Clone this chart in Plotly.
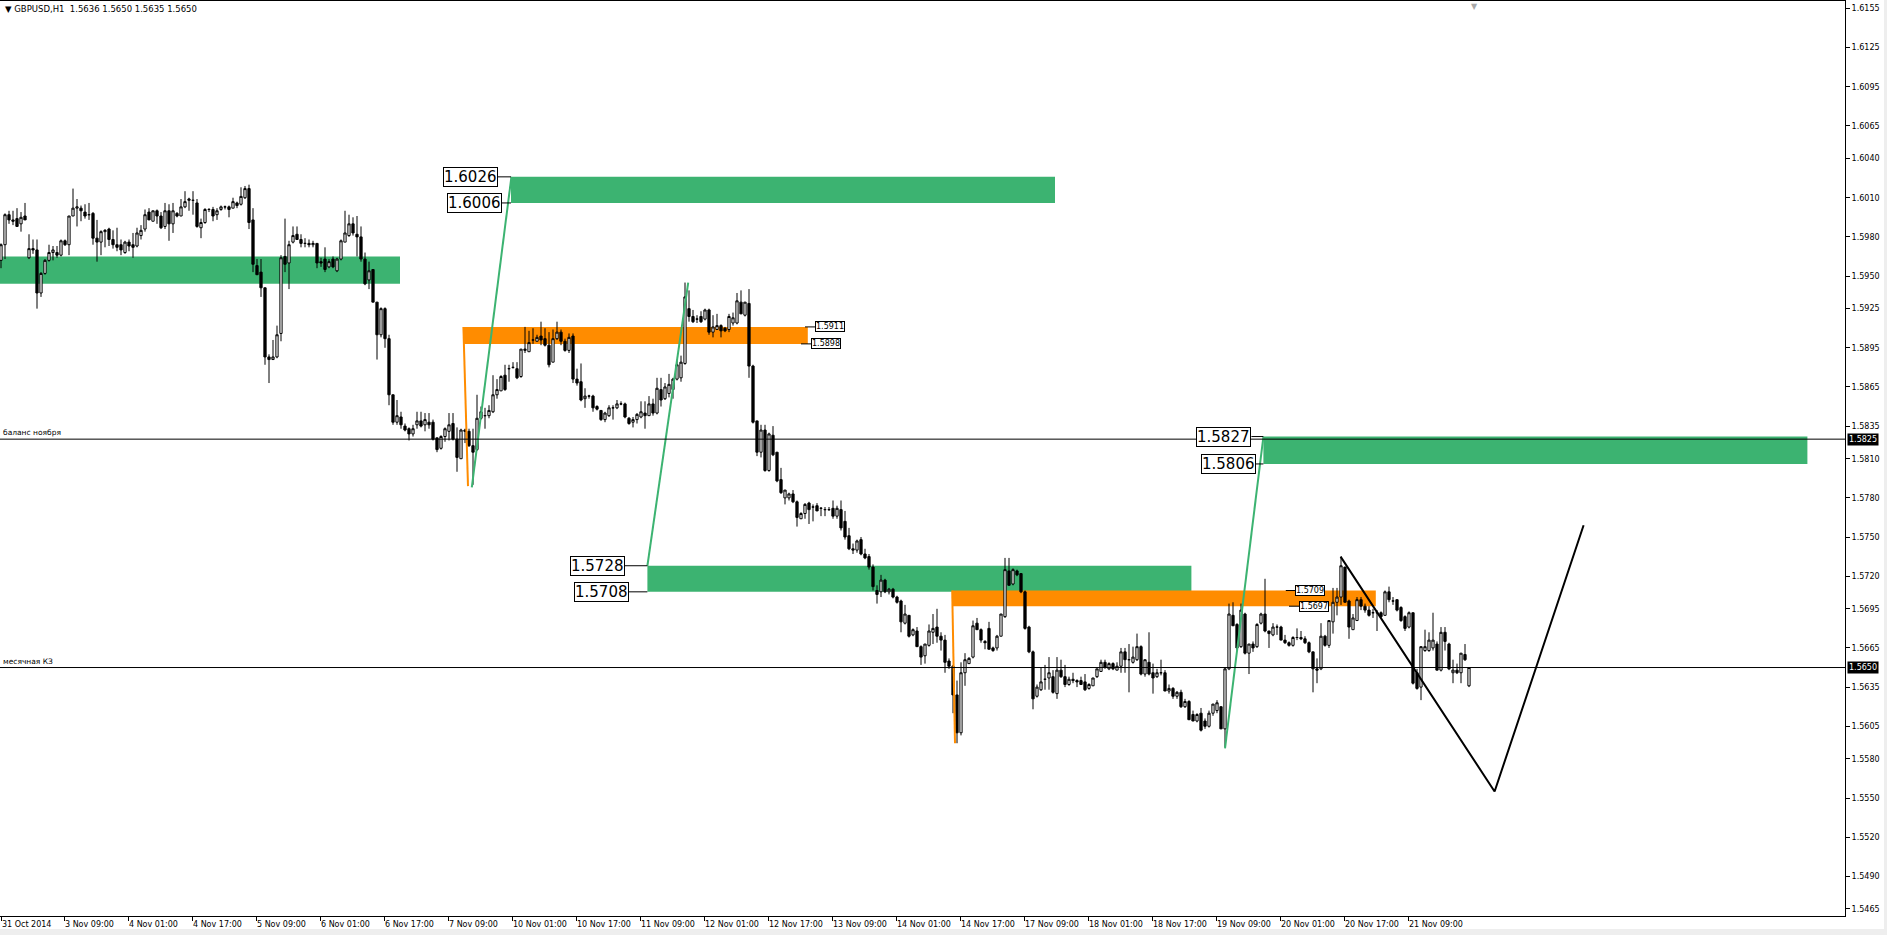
import plotly.graph_objects as go

# ---------------- data (prices in 0.0001 units above 1.5000) ----------------
bar_open = [
    962, 974, 997, 993, 994, 990, 996, 964, 971, 970,
    937, 952, 962, 968, 968, 966, 977, 974, 996, 1002,
    1002, 999, 997, 998, 979, 976, 984, 986, 978, 974,
    974, 968, 976, 974, 973, 981, 986, 999, 992, 1000,
    996, 988, 1000, 990, 998, 996, 1003, 1008, 1008, 1006,
    987, 991, 1001, 1001, 997, 1001, 1003, 1003, 1002, 1006,
    1005, 1010, 1017, 993, 958, 953, 941, 888, 886, 888,
    906, 965, 960, 976, 982, 978, 975, 975, 974, 975,
    961, 963, 957, 963, 954, 963, 976, 981, 990, 982,
    980, 963, 947, 955, 930, 905, 925, 902, 859, 838,
    842, 835, 833, 829, 836, 839, 836, 838, 838, 826,
    818, 827, 831, 837, 825, 810, 832, 831, 820, 817,
    841, 843, 843, 846, 859, 862, 874, 879, 880, 879,
    873, 893, 892, 901, 900, 904, 902, 897, 884, 902,
    907, 900, 893, 904, 871, 869, 856, 858, 858, 850,
    847, 840, 843, 849, 849, 852, 852, 841, 838, 840,
    842, 845, 843, 852, 845, 863, 856, 860, 863, 871,
    872, 883, 925, 919, 917, 919, 917, 924, 907, 909,
    912, 910, 909, 914, 914, 930, 920, 929, 881, 839,
    815, 832, 801, 828, 815, 794, 780, 780, 783, 777,
    764, 768, 776, 773, 774, 772, 771, 771, 772, 766,
    771, 762, 751, 741, 740, 748, 737, 735, 727, 709,
    708, 717, 708, 710, 704, 701, 684, 690, 675, 678,
    666, 659, 667, 677, 681, 674, 671, 655, 651, 629,
    600, 646, 653, 658, 684, 679, 670, 680, 665, 665,
    674, 689, 724, 714, 724, 722, 708, 681, 662, 628,
    633, 641, 642, 643, 630, 648, 643, 637, 641, 640,
    640, 639, 634, 636, 643, 647, 654, 649, 653, 648,
    651, 662, 656, 654, 656, 666, 645, 654, 646, 643,
    646, 646, 632, 634, 628, 631, 620, 624, 614, 609,
    615, 609, 605, 615, 617, 620, 603, 649, 690, 683,
    666, 691, 661, 668, 666, 684, 691, 678, 675, 681,
    681, 671, 669, 667, 673, 673, 672, 669, 662, 649,
    649, 674, 667, 685, 700, 704, 727, 701, 679, 686,
    702, 697, 694, 692, 692, 692, 690, 708, 701, 702,
    696, 689, 681, 692, 646, 635, 663, 663, 665, 668,
    648, 677, 668, 646, 648, 646, 660, 636,
]
bar_high = [
    975, 998, 1000, 1000, 1002, 999, 1006, 982, 978, 978,
    953, 963, 974, 973, 973, 978, 978, 996, 1017, 1009,
    1004, 1005, 1006, 999, 993, 985, 986, 987, 985, 987,
    978, 977, 978, 983, 987, 989, 1001, 1002, 1000, 1001,
    999, 1006, 1005, 1006, 999, 1009, 1015, 1010, 1015, 1009,
    994, 1002, 1002, 1003, 1002, 1004, 1004, 1004, 1010, 1007,
    1018, 1019, 1020, 1002, 963, 963, 941, 890, 901, 912,
    966, 994, 977, 988, 988, 982, 979, 978, 977, 975,
    964, 972, 963, 965, 964, 978, 1000, 997, 995, 996,
    988, 968, 961, 955, 930, 926, 926, 905, 859, 855,
    846, 837, 834, 836, 846, 846, 845, 845, 840, 826,
    828, 834, 845, 845, 834, 833, 833, 833, 833, 859,
    850, 849, 851, 874, 871, 874, 882, 882, 884, 884,
    894, 911, 908, 910, 905, 915, 910, 907, 909, 915,
    909, 902, 906, 906, 879, 883, 864, 859, 859, 851,
    847, 846, 851, 851, 855, 854, 853, 842, 842, 845,
    854, 854, 858, 856, 872, 872, 868, 875, 872, 886,
    889, 945, 939, 924, 920, 923, 925, 925, 920, 921,
    913, 911, 921, 922, 937, 939, 930, 940, 882, 839,
    836, 836, 830, 835, 815, 803, 786, 784, 786, 778,
    769, 776, 777, 775, 776, 773, 773, 773, 778, 774,
    778, 770, 757, 745, 748, 750, 741, 737, 729, 713,
    721, 718, 711, 711, 705, 702, 698, 690, 680, 681,
    667, 668, 683, 691, 695, 677, 675, 657, 652, 640,
    654, 661, 658, 686, 688, 680, 671, 685, 666, 675,
    691, 734, 734, 726, 725, 722, 709, 682, 663, 637,
    650, 652, 658, 648, 658, 656, 652, 643, 646, 641,
    643, 645, 638, 642, 649, 656, 656, 654, 654, 654,
    665, 665, 668, 666, 676, 667, 656, 677, 653, 649,
    656, 648, 637, 635, 632, 633, 626, 625, 617, 615,
    619, 611, 617, 622, 625, 620, 650, 699, 700, 684,
    699, 692, 668, 670, 684, 692, 718, 678, 684, 683,
    682, 675, 670, 674, 680, 678, 674, 670, 662, 657,
    684, 675, 686, 711, 711, 735, 727, 702, 691, 704,
    704, 699, 697, 695, 694, 693, 709, 712, 704, 702,
    697, 690, 693, 692, 649, 666, 679, 677, 692, 670,
    681, 681, 669, 656, 653, 661, 668, 650,
]
bar_low = [
    956, 963, 990, 989, 988, 984, 993, 963, 967, 925,
    934, 951, 961, 962, 964, 965, 973, 966, 996, 988,
    992, 994, 993, 974, 961, 966, 972, 973, 971, 969,
    966, 967, 969, 964, 972, 978, 984, 993, 992, 990,
    986, 986, 977, 983, 995, 996, 1002, 1000, 997, 987,
    979, 990, 999, 992, 993, 1000, 1001, 995, 1002, 1002,
    1004, 1009, 986, 953, 951, 934, 882, 868, 886, 887,
    900, 953, 940, 975, 978, 972, 972, 972, 972, 956,
    957, 953, 956, 956, 953, 962, 976, 980, 981, 965,
    961, 943, 940, 930, 886, 903, 895, 851, 836, 836,
    833, 831, 824, 827, 833, 834, 831, 833, 824, 815,
    817, 823, 824, 824, 800, 810, 822, 819, 790, 816,
    840, 833, 841, 845, 856, 862, 862, 869, 879, 871,
    872, 891, 892, 898, 900, 897, 896, 880, 884, 901,
    897, 892, 891, 868, 866, 854, 849, 856, 846, 847,
    839, 838, 842, 840, 848, 851, 841, 836, 834, 837,
    841, 833, 843, 843, 844, 850, 855, 857, 856, 870,
    869, 882, 915, 914, 914, 914, 916, 905, 903, 909,
    903, 907, 907, 912, 913, 921, 919, 872, 837, 812,
    811, 800, 800, 812, 792, 783, 775, 778, 776, 758,
    764, 764, 760, 762, 770, 766, 766, 770, 764, 764,
    755, 748, 740, 737, 738, 736, 733, 725, 709, 699,
    704, 707, 706, 703, 699, 677, 683, 673, 674, 666,
    652, 653, 666, 668, 669, 663, 646, 649, 615, 592,
    598, 636, 653, 657, 679, 669, 664, 664, 662, 663,
    674, 688, 713, 713, 720, 707, 679, 661, 618, 627,
    632, 633, 633, 630, 626, 642, 635, 636, 638, 635,
    637, 632, 633, 636, 642, 647, 649, 648, 648, 648,
    646, 646, 631, 653, 655, 644, 643, 644, 630, 642,
    644, 632, 630, 626, 626, 619, 619, 610, 609, 608,
    601, 603, 604, 613, 615, 603, 589, 648, 682, 663,
    665, 660, 645, 662, 665, 683, 677, 665, 674, 675,
    671, 668, 666, 666, 671, 671, 668, 661, 631, 638,
    648, 666, 665, 676, 690, 698, 700, 672, 679, 686,
    694, 692, 689, 688, 678, 688, 690, 700, 698, 693,
    685, 678, 680, 637, 633, 625, 662, 662, 663, 648,
    647, 663, 648, 638, 645, 638, 655, 635,
]
bar_close = [
    974, 997, 993, 992, 988, 995, 993, 971, 970, 937,
    952, 962, 968, 970, 966, 977, 974, 996, 1002, 1003,
    1000, 996, 997, 979, 976, 984, 985, 978, 974, 972,
    970, 976, 973, 972, 983, 985, 997, 993, 1000, 996,
    987, 1000, 990, 1000, 996, 1003, 1007, 1009, 1008, 988,
    991, 1001, 1001, 996, 1000, 1003, 1003, 1001, 1007, 1004,
    1011, 1017, 991, 959, 951, 941, 888, 886, 888, 905,
    964, 959, 974, 981, 978, 975, 975, 974, 975, 960,
    960, 955, 961, 957, 963, 977, 983, 990, 983, 980,
    963, 944, 954, 930, 905, 925, 902, 859, 838, 843,
    836, 832, 829, 833, 839, 835, 840, 836, 825, 817,
    827, 833, 836, 825, 811, 832, 831, 820, 815, 841,
    846, 843, 847, 859, 863, 873, 863, 879, 880, 872,
    894, 894, 899, 901, 903, 901, 897, 882, 902, 907,
    900, 893, 903, 871, 868, 855, 858, 858, 849, 848,
    840, 845, 849, 849, 852, 852, 842, 837, 840, 844,
    846, 843, 852, 845, 864, 855, 865, 867, 871, 882,
    884, 934, 919, 915, 917, 915, 924, 907, 911, 912,
    908, 908, 919, 918, 931, 921, 930, 881, 838, 815,
    832, 801, 829, 813, 793, 784, 786, 783, 777, 765,
    768, 775, 771, 773, 770, 772, 771, 771, 766, 772,
    757, 750, 741, 740, 747, 737, 734, 727, 712, 706,
    717, 708, 710, 704, 700, 685, 691, 674, 679, 666,
    658, 668, 678, 680, 674, 671, 654, 651, 629, 600,
    646, 656, 657, 682, 679, 671, 669, 664, 663, 674,
    691, 725, 713, 725, 721, 708, 680, 662, 626, 635,
    639, 641, 646, 631, 648, 643, 637, 641, 640, 639,
    637, 633, 637, 642, 649, 654, 650, 653, 649, 651,
    662, 656, 656, 658, 666, 645, 656, 645, 642, 646,
    646, 632, 634, 628, 631, 620, 624, 610, 609, 614,
    602, 605, 615, 622, 623, 603, 649, 691, 682, 665,
    694, 661, 668, 665, 683, 691, 678, 676, 681, 681,
    671, 669, 667, 673, 673, 672, 669, 662, 649, 648,
    674, 667, 686, 700, 704, 728, 700, 681, 688, 702,
    697, 694, 690, 692, 692, 689, 708, 702, 701, 694,
    686, 680, 692, 638, 634, 666, 666, 671, 671, 648,
    677, 670, 649, 648, 646, 661, 656, 650,
]

x_tick_bars = [0, 17, 33, 49, 65, 81, 97, 113, 129, 145, 161, 177, 193,
               209, 225, 241, 257, 273, 289, 305, 321, 337, 353]
x_tick_labels = ["31 Oct 2014", "3 Nov 09:00", "4 Nov 01:00", "4 Nov 17:00",
                 "5 Nov 09:00", "6 Nov 01:00", "6 Nov 17:00", "7 Nov 09:00",
                 "10 Nov 01:00", "10 Nov 17:00", "11 Nov 09:00", "12 Nov 01:00",
                 "12 Nov 17:00", "13 Nov 09:00", "14 Nov 01:00", "14 Nov 17:00",
                 "17 Nov 09:00", "18 Nov 01:00", "18 Nov 17:00", "19 Nov 09:00",
                 "20 Nov 01:00", "20 Nov 17:00", "21 Nov 09:00"]
y_tick_values = [1.6155, 1.6125, 1.6095, 1.6065, 1.6040, 1.6010, 1.5980, 1.5950,
                 1.5925, 1.5895, 1.5865, 1.5835, 1.5810, 1.5780, 1.5750, 1.5720,
                 1.5695, 1.5665, 1.5635, 1.5605, 1.5580, 1.5550, 1.5520, 1.5490,
                 1.5465]

# zones: start bar, end bar, low price, high price, colour
zone_start = [-36.0, 127.5, 115.6, 161.6, 237.8, 315.6]
zone_end = [99.75, 263.5, 201.7, 297.6, 343.7, 451.6]
zone_low = [1.5944, 1.6006, 1.5898, 1.5708, 1.5697, 1.5806]
zone_high = [1.5965, 1.6026, 1.5911, 1.5728, 1.5709, 1.5827]
zone_color = ["#3CB371", "#3CB371", "#FF8C00", "#3CB371", "#FF8C00", "#3CB371"]

# drawn trend lines (bar index, price)
trend_lines = [
    dict(x=[117.7, 127.6], y=[1.5788, 1.6026], color="#3CB371", width=2),
    dict(x=[115.6, 116.75], y=[1.5911, 1.5789], color="#FF8C00", width=2),
    dict(x=[161.6, 171.8], y=[1.5728, 1.5945], color="#3CB371", width=2),
    dict(x=[237.8, 238.5], y=[1.5709, 1.5592], color="#FF8C00", width=2),
    dict(x=[306.0, 315.6], y=[1.5588, 1.5827], color="#3CB371", width=2),
    dict(x=[334.9, 373.4, 395.65], y=[1.5735, 1.5555, 1.5759], color="black", width=2),
]

# price labels: price, anchor bar, line end bar
big_labels = [
    (1.6026, 124.25, 127.5),
    (1.6006, 125.25, 127.5),
    (1.5728, 156.0, 161.6),
    (1.5708, 157.0, 161.6),
    (1.5827, 312.6, 315.6),
    (1.5806, 313.75, 315.6),
]
small_labels = [
    (1.5911, 203.5, 201.0),
    (1.5898, 202.5, 200.0),
    (1.5709, 323.5, 321.2),
    (1.5697, 324.6, 322.0),
]

hlines = [(1.5825, "баланс ноября"), (1.5650, "месячная КЗ")]
header = "GBPUSD,H1  1.5636 1.5650 1.5635 1.5650"

FONT = "DejaVu Sans"

idx = list(range(len(bar_close)))
to_price = lambda v: [1.5 + p / 10000.0 for p in v]

fig = go.Figure()
fig.add_trace(go.Candlestick(
    x=idx, open=to_price(bar_open), high=to_price(bar_high),
    low=to_price(bar_low), close=to_price(bar_close),
    increasing=dict(line=dict(color="black", width=1), fillcolor="white"),
    decreasing=dict(line=dict(color="black", width=1), fillcolor="black"),
    whiskerwidth=0, hoverinfo="skip", showlegend=False,
))

for tl in trend_lines:
    fig.add_trace(go.Scatter(x=tl["x"], y=tl["y"], mode="lines",
                             line=dict(color=tl["color"], width=tl["width"]),
                             hoverinfo="skip", showlegend=False))

shapes = []
for s, e, lo, hi, c in zip(zone_start, zone_end, zone_low, zone_high, zone_color):
    shapes.append(dict(type="rect", xref="x", yref="y", x0=s, x1=e, y0=lo, y1=hi,
                       fillcolor=c, line=dict(width=0), layer="below"))
for price, _ in hlines:
    shapes.append(dict(type="line", xref="paper", yref="y", x0=0, x1=1, y0=price, y1=price,
                       line=dict(color="black", width=1)))
# window frame strips (light grey border of the terminal window)
shapes.append(dict(type="rect", xref="paper", yref="paper", x0=-0.01, x1=1.03,
                   y0=-(929 - 916) / 915.0, y1=-0.05, fillcolor="#EEEEEE",
                   line=dict(width=0), layer="above"))
shapes.append(dict(type="rect", xref="paper", yref="paper", x0=1884 / 1845.0, x1=1.03,
                   y0=-0.05, y1=1.01, fillcolor="#EEEEEE",
                   line=dict(width=0), layer="above"))

annotations = []
for price, bx, lx in big_labels:
    shapes.append(dict(type="line", xref="x", yref="y", x0=bx, x1=lx, y0=price, y1=price,
                       line=dict(color="black", width=1)))
    annotations.append(dict(x=bx, y=price, xref="x", yref="y", text=f"{price:.4f}",
                            showarrow=False, xanchor="right", yanchor="middle",
                            font=dict(family=FONT, size=15, color="black"),
                            bgcolor="white", bordercolor="black", borderwidth=1, borderpad=0))
for price, bx, lx in small_labels:
    shapes.append(dict(type="line", xref="x", yref="y", x0=lx, x1=bx, y0=price, y1=price,
                       line=dict(color="black", width=1)))
    annotations.append(dict(x=bx, y=price, xref="x", yref="y", text=f"{price:.4f}",
                            showarrow=False, xanchor="left", yanchor="middle",
                            font=dict(family=FONT, size=8, color="black"),
                            bgcolor="white", bordercolor="black", borderwidth=1, borderpad=0))
for price, name in hlines:
    annotations.append(dict(x=0, y=price, xref="paper", yref="y", text=name,
                            showarrow=False, xanchor="left", yanchor="bottom", xshift=1,
                            font=dict(family=FONT, size=7.5, color="black")))
    annotations.append(dict(x=1, y=price, xref="paper", yref="y", text=f"{price:.4f}",
                            showarrow=False, xanchor="left", yanchor="middle", xshift=2,
                            font=dict(family=FONT, size=8, color="white"),
                            bgcolor="black", borderpad=1))
annotations.append(dict(x=0, y=1, xref="paper", yref="paper", text="▼ " + header,
                        showarrow=False, xanchor="left", yanchor="top", xshift=3, yshift=-1,
                        font=dict(family=FONT, size=8.5, color="black")))
annotations.append(dict(x=368.25, y=1, xref="x", yref="paper", text="▼",
                        showarrow=False, xanchor="center", yanchor="top", yshift=1,
                        font=dict(family=FONT, size=8, color="#A8A8A8")))

# MT4 draws each date mark just left of its bar; keep the first one at the edge
TICK_OFFSET_BARS = 1.25
tick_positions = [max(b - TICK_OFFSET_BARS, 0.0) for b in x_tick_bars]

fig.update_layout(
    width=1887, height=935,
    margin=dict(l=0, r=42, t=1, b=19, autoexpand=False),
    paper_bgcolor="white", plot_bgcolor="white",
    font=dict(family=FONT, size=8, color="black"),
    shapes=shapes, annotations=annotations,
    showlegend=False, boxgap=0.2,
    xaxis=dict(range=[-0.25, 461.0], rangeslider=dict(visible=False),
               showgrid=False, zeroline=False, showline=True, linecolor="black",
               linewidth=1, mirror=True, ticks="outside", ticklen=4, tickcolor="black",
               tickvals=tick_positions, ticktext=x_tick_labels,
               ticklabelposition="outside right",
               tickfont=dict(family=FONT, size=8, color="black")),
    yaxis=dict(range=[1.545960, 1.616075], side="right", showgrid=False, zeroline=False,
               showline=True, linecolor="black", linewidth=1, ticks="outside", ticklen=4,
               tickcolor="black", tickvals=y_tick_values,
               ticktext=[f"{v:.4f}" for v in y_tick_values],
               tickfont=dict(family=FONT, size=8, color="black")),
)

fig.write_html("out.html", config={"displayModeBar": False},
               post_script="document.body.style.margin='0px';document.body.style.overflow='hidden';")
